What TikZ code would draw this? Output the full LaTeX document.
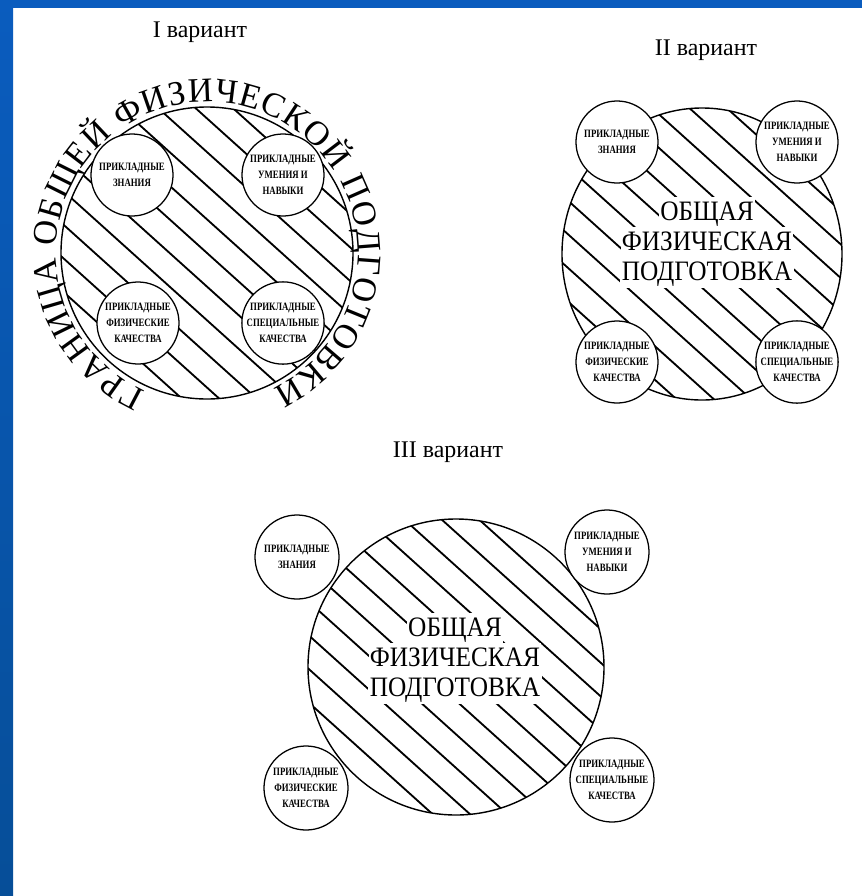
\documentclass[tikz,border=0pt]{standalone}
\usepackage{fontspec}
\setmainfont{Liberation Serif}
\newfontfamily\narrowserif[FakeStretch=0.78]{Liberation Serif}
\newfontfamily\centreserif[FakeStretch=0.9]{Liberation Serif}
\usetikzlibrary{calc, positioning, decorations.text}
\definecolor{frameblue}{RGB}{10,92,190}
\definecolor{frameblue2}{RGB}{6,78,152}
\newcommand{\bubblefont}{\narrowserif\bfseries\fontsize{8}{11.3}\selectfont}
\newcommand{\centrefont}{\centreserif\fontsize{20}{24}\selectfont}
\newcommand{\ringfont}{\fontsize{24.5}{29}\selectfont}

\begin{document}
\begin{tikzpicture}[x=0.025cm, y=0.025cm,
  hatch/.style={line width=1.3pt},
  ring/.style={line width=1pt},
  bubble/.style={circle, draw, line width=0.9pt, fill=white, minimum size=2.05cm, inner sep=0pt, align=center, font=\bubblefont},
  bigword/.style={fill=white, inner xsep=1pt, inner ysep=1.6pt, text height=15pt, text depth=4.3pt, anchor=base, font=\centrefont},
  heading/.style={font=\fontsize{17}{20}\selectfont}]
  \useasboundingbox (0,0) rectangle (862,-896);
  \fill[white] (0,0) rectangle (862,-896);
  % blue frame
  \fill[frameblue] (0,0) rectangle (862,-8);
  \shade[top color=frameblue, bottom color=frameblue2] (0,0) rectangle (13,-896);

  % titles
  \node[heading] (title1) at (200,-32) {I вариант};
  \node[heading] (title2) at (706,-50) {II вариант};
  \node[heading] (title3) at (448,-452) {III вариант};

  % I variant
  \coordinate (c1) at (207,-253);
  \begin{scope}
    \clip (c1) circle[radius=146];
    \foreach \k in {-7,...,7}
      \draw[hatch] ($(c1)+(48:{\k*25})+(138:170)$) -- ($(c1)+(48:{\k*25})+(-42:170)$);
  \end{scope}
  \draw[ring] (c1) circle[radius=146];
  \node[bubble] (know1) at (132,-175) {ПРИКЛАДНЫЕ\\ЗНАНИЯ};
  \node[bubble] (skill1) at (283,-175) {ПРИКЛАДНЫЕ\\УМЕНИЯ И\\НАВЫКИ};
  \node[bubble] (phys1) at (138,-323) {ПРИКЛАДНЫЕ\\ФИЗИЧЕСКИЕ\\КАЧЕСТВА};
  \node[bubble] (spec1) at (283,-323) {ПРИКЛАДНЫЕ\\СПЕЦИАЛЬНЫЕ\\КАЧЕСТВА};
  \path[decorate, decoration={text along path, text align=fit to path,
      text={|\ringfont|ГРАНИЦА ОБЩЕЙ ФИЗИЧЕСКОЙ ПОДГОТОВКИ}}]
    ($(c1)+(246:151)$) arc[start angle=246, end angle=-64, radius=151];

  % II variant
  \coordinate (c2) at (702,-254);
  \begin{scope}
    \clip (c2) ellipse[x radius=140, y radius=146];
    \foreach \k in {-7,...,7}
      \draw[hatch] ($(c2)+(48:{\k*25})+(138:170)$) -- ($(c2)+(48:{\k*25})+(-42:170)$);
  \end{scope}
  \draw[ring] (c2) ellipse[x radius=140, y radius=146];
  \node[bubble] (know2) at (617,-142) {ПРИКЛАДНЫЕ\\ЗНАНИЯ};
  \node[bubble] (skill2) at (797,-142) {ПРИКЛАДНЫЕ\\УМЕНИЯ И\\НАВЫКИ};
  \node[bubble] (phys2) at (617,-362) {ПРИКЛАДНЫЕ\\ФИЗИЧЕСКИЕ\\КАЧЕСТВА};
  \node[bubble] (spec2) at (797,-362) {ПРИКЛАДНЫЕ\\СПЕЦИАЛЬНЫЕ\\КАЧЕСТВА};
  \node[bigword] (word2a) at (707,-220) {ОБЩАЯ};
  \node[bigword] (word2b) at (707,-250) {ФИЗИЧЕСКАЯ};
  \node[bigword] (word2c) at (707,-280) {ПОДГОТОВКА};

  % III variant
  \coordinate (c3) at (456,-667);
  \begin{scope}
    \clip (c3) circle[radius=148];
    \foreach \k in {-7,...,7}
      \draw[hatch] ($(c3)+(48:{\k*25})+(138:170)$) -- ($(c3)+(48:{\k*25})+(-42:170)$);
  \end{scope}
  \draw[ring] (c3) circle[radius=148];
  \node[bubble, minimum size=2.1cm] (know3) at (297,-557) {ПРИКЛАДНЫЕ\\ЗНАНИЯ};
  \node[bubble, minimum size=2.1cm] (skill3) at (607,-552) {ПРИКЛАДНЫЕ\\УМЕНИЯ И\\НАВЫКИ};
  \node[bubble, minimum size=2.1cm] (phys3) at (306,-788) {ПРИКЛАДНЫЕ\\ФИЗИЧЕСКИЕ\\КАЧЕСТВА};
  \node[bubble, minimum size=2.1cm] (spec3) at (612,-780) {ПРИКЛАДНЫЕ\\СПЕЦИАЛЬНЫЕ\\КАЧЕСТВА};
  \node[bigword] (word3a) at (455,-636) {ОБЩАЯ};
  \node[bigword] (word3b) at (455,-666) {ФИЗИЧЕСКАЯ};
  \node[bigword] (word3c) at (455,-696) {ПОДГОТОВКА};
\end{tikzpicture}
\end{document}
